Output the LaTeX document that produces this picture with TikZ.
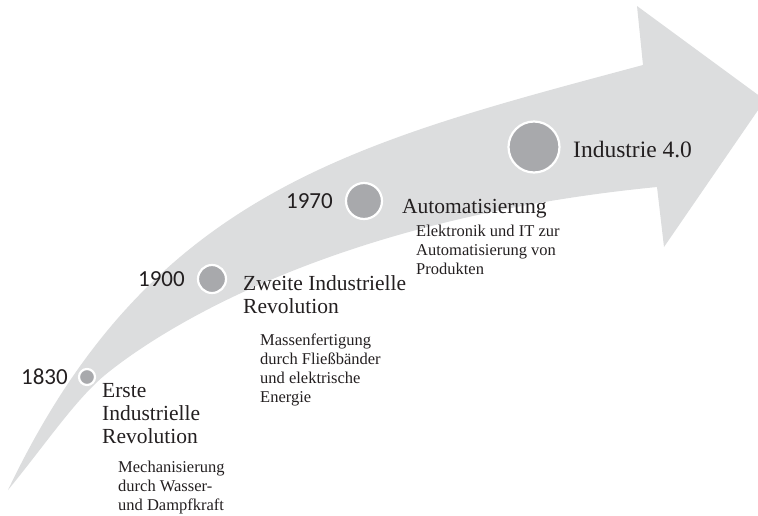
\documentclass[tikz,border=0pt]{standalone}
\usepackage{fontspec}
\setmainfont{Liberation Serif}
\newfontfamily\yearfont{Carlito}
\definecolor{arrowfill}{RGB}{220,221,222}
\definecolor{dotfill}{RGB}{168,169,172}
\definecolor{txt}{RGB}{35,31,32}
\begin{document}
\begin{tikzpicture}[x=1pt,y=-1pt,
  era/.style={anchor=base west, inner sep=0pt, align=left, text=txt,
    font=\fontsize{21.5}{23}\selectfont},
  note/.style={anchor=base west, inner sep=0pt, align=left, text=txt,
    font=\fontsize{16.5}{18.8}\selectfont},
  year/.style={anchor=base east, inner sep=0pt, text=txt,
    font=\yearfont\fontsize{23}{23}\selectfont},
  dot/.style={circle, fill=dotfill, draw=white, line width=2.2pt,
    inner sep=0pt, minimum size=#1}]
\useasboundingbox (0,0) rectangle (758,515);

% curved timeline arrow
\begin{scope}
  \clip (0,0) rectangle (758,515);
  \fill[arrowfill] (8,490) .. controls (150,192) and (352,143) .. (643,65)
    -- (637,6) -- (765,100) -- (664,247) -- (657,187)
    .. controls (320,220) and (150,338) .. (105,375)
    .. controls (75,400) and (45,445) .. (8,490) -- cycle;
\end{scope}

% milestones
\node[dot=16pt] (d1) at (87,377) {};
\node[dot=28pt] (d2) at (212,279) {};
\node[dot=36pt] (d3) at (364,201) {};
\node[dot=51pt] (d4) at (534,147) {};

\node[year] (y1) at (68,384) {1830};
\node[year] (y2) at (185,286) {1900};
\node[year] (y3) at (333,208) {1970};

% multi-line nodes are placed by the baseline of their last line
\node[era] (e1) at (102,443) {Erste\\Industrielle\\Revolution};
\node[era] (e2) at (243,313) {Zweite Industrielle\\Revolution};
\node[era] (e3) at (402,213) {Automatisierung};
\node[era, font=\fontsize{23.5}{25}\selectfont] (e4) at (573,157) {Industrie 4.0};

\node[note] (n1) at (118,510) {Mechanisierung\\durch Wasser-\\und Dampfkraft};
\node[note] (n2) at (260,402) {Massenfertigung\\durch Fließbänder\\und elektrische\\Energie};
\node[note] (n3) at (416,274) {Elektronik und IT zur\\Automatisierung von\\Produkten};
\end{tikzpicture}
\end{document}
